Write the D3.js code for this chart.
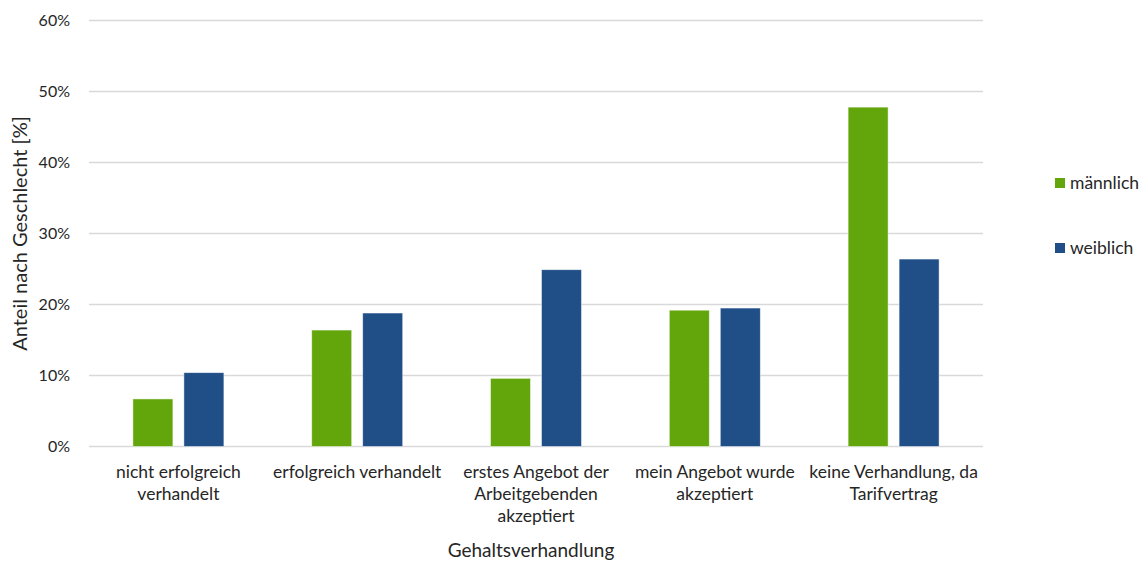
<!DOCTYPE html>
<html>
<head>
<meta charset="utf-8">
<script src="https://cdn.jsdelivr.net/npm/d3@7"></script>
<style>
  body { margin: 0; background: #fff; }
  svg { display: block; font-family: Lato, "Open Sans", sans-serif; }
</style>
</head>
<body>
<svg id="chart" width="1148" height="561"></svg>
<script>
// Antworten zur Gehaltsverhandlung, Anteil nach Geschlecht in Prozent
const categories = [
  ["nicht erfolgreich", "verhandelt"],
  ["erfolgreich verhandelt"],
  ["erstes Angebot der", "Arbeitgebenden", "akzeptiert"],
  ["mein Angebot wurde", "akzeptiert"],
  ["keine Verhandlung, da", "Tarifvertrag"]
];
const seriesNames = ["männlich", "weiblich"];
const maleValues = [6.7, 16.4, 9.6, 19.2, 47.8];
const femaleValues = [10.4, 18.8, 24.9, 19.5, 26.4];
const yTicks = [0, 10, 20, 30, 40, 50, 60];
const colors = ["#63a60c", "#204e87"];

const svg = d3.select("#chart");
const margin = { left: 89, right: 165, top: 20.5, bottom: 114.5 };
const W = 1148, H = 561;
const plotW = W - margin.left - margin.right;
const plotH = H - margin.top - margin.bottom;

const g = svg.append("g").attr("transform", `translate(${margin.left},${margin.top})`);

const x = d3.scaleBand().domain(d3.range(categories.length)).range([0, plotW]).padding(0);
const y = d3.scaleLinear().domain([0, 60]).range([plotH, 0]);

// Gitterlinien
g.selectAll("line.grid").data(yTicks).join("line")
  .attr("class", "grid")
  .attr("x1", 0).attr("x2", plotW)
  .attr("y1", d => y(d)).attr("y2", d => y(d))
  .attr("stroke", "#d9d9d9").attr("stroke-width", 1.3);

// Y-Achse
const yAxis = d3.axisLeft(y).tickValues(yTicks).tickFormat(d => d + "%").tickSize(0).tickPadding(19);
const ya = g.append("g").call(yAxis);
ya.select(".domain").remove();
ya.selectAll("text").attr("font-size", 16).attr("fill", "#262626").attr("font-family", "Lato, sans-serif");

// Balken
const barW = 40, gap = 11;
const series = [maleValues, femaleValues];
series.forEach((vals, si) => {
  g.selectAll(`rect.s${si}`).data(vals).join("rect")
    .attr("class", `s${si}`)
    .attr("x", (d, i) => x(i) + x.bandwidth() / 2 + (si === 0 ? -(gap / 2 + barW) : gap / 2))
    .attr("y", d => y(d))
    .attr("width", barW)
    .attr("height", d => y(0) - y(d))
    .attr("fill", colors[si])
    .attr("stroke", "#ffffff").attr("stroke-opacity", 0.6).attr("stroke-width", 0.8);
});

// Kategorienbeschriftung
const catG = g.append("g");
categories.forEach((lines, i) => {
  const t = catG.append("text")
    .attr("x", x(i) + x.bandwidth() / 2)
    .attr("y", plotH + 31.5)
    .attr("text-anchor", "middle")
    .attr("font-size", 17.5)
    .attr("fill", "#262626");
  lines.forEach((ln, j) => {
    t.append("tspan").attr("x", x(i) + x.bandwidth() / 2).attr("dy", j === 0 ? 0 : 22).text(ln);
  });
});

// Achsentitel
svg.append("text")
  .attr("x", margin.left + plotW / 2 - 5)
  .attr("y", 557)
  .attr("text-anchor", "middle")
  .attr("font-size", 19).attr("fill", "#262626")
  .text("Gehaltsverhandlung");

svg.append("text")
  .attr("transform", `translate(27,${margin.top + plotH / 2}) rotate(-90)`)
  .attr("text-anchor", "middle")
  .attr("font-size", 20).attr("fill", "#262626")
  .text("Anteil nach Geschlecht [%]");

// Legende
const legend = svg.append("g").attr("transform", "translate(1055,178)");
seriesNames.forEach((name, i) => {
  const row = legend.append("g").attr("transform", `translate(0,${i * 65})`);
  row.append("rect").attr("width", 10).attr("height", 10).attr("fill", colors[i]);
  row.append("text").attr("x", 15).attr("y", 11)
    .attr("font-size", 17.5).attr("fill", "#262626").text(name);
});
</script>
</body>
</html>
